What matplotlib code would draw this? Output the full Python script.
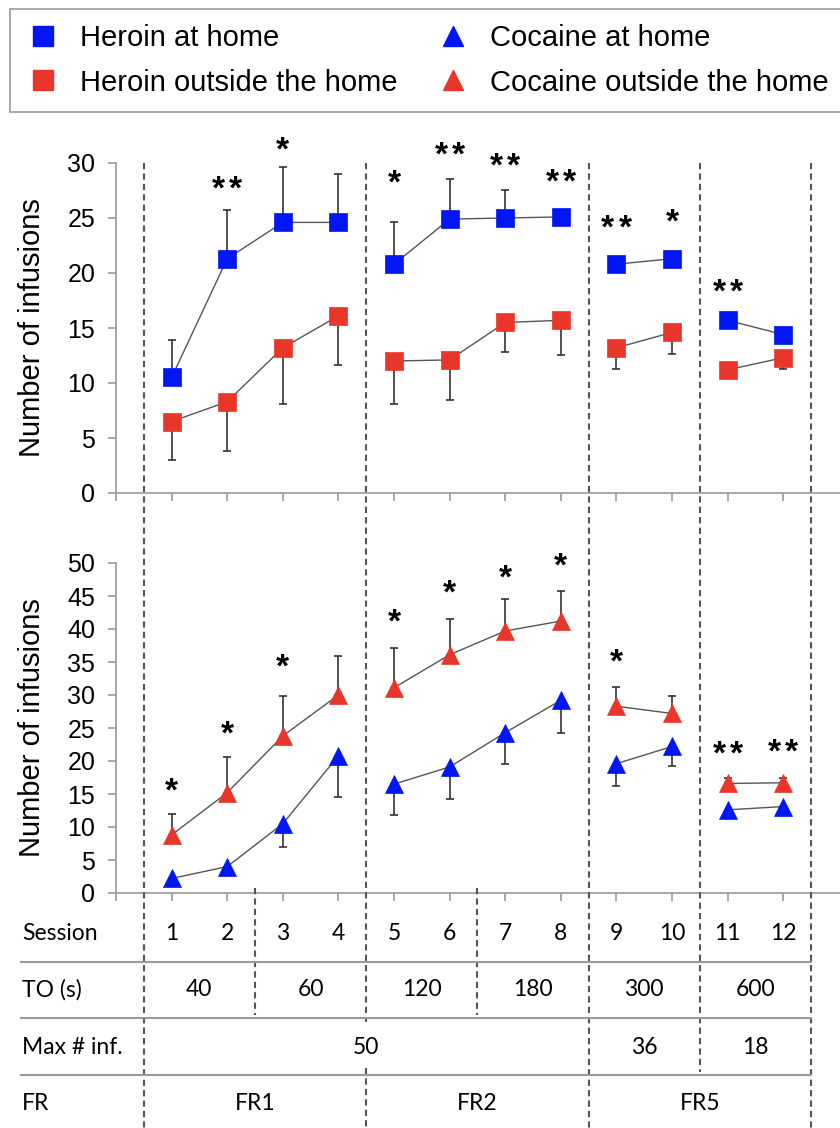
import numpy as np
import matplotlib.pyplot as plt
from matplotlib.lines import Line2D
from matplotlib.transforms import blended_transform_factory, ScaledTranslation

plt.rcParams.update({
    "font.family": ["Liberation Sans", "DejaVu Sans"],
    "axes.edgecolor": "#9a9a9a",
    "xtick.color": "#9a9a9a",
    "ytick.color": "#9a9a9a",
    "xtick.labelcolor": "black",
    "ytick.labelcolor": "black",
})

# ---- data ----
sessions = np.arange(1, 13)
phases = [(1, 4), (5, 8), (9, 10), (11, 12)]

heroin_home = [10.5, 21.3, 24.6, 24.6, 20.8, 24.9, 25.0, 25.1, 20.8, 21.3, 15.7, 14.4]
heroin_home_sem = [3.4, 4.4, 5.0, 4.4, 3.8, 3.6, 2.5, 0.6, 0.5, 0.6, 0.5, 0.5]
heroin_out = [6.5, 8.3, 13.2, 16.1, 12.0, 12.1, 15.5, 15.7, 13.2, 14.6, 11.2, 12.3]
heroin_out_sem = [3.5, 4.5, 5.1, 4.5, 3.9, 3.6, 2.7, 3.2, 1.9, 2.0, 0.5, 1.0]

cocaine_home = [2.2, 4.0, 10.5, 20.8, 16.5, 19.1, 24.3, 29.2, 19.6, 22.2, 12.6, 13.1]
cocaine_home_sem = [0.8, 0.8, 3.6, 6.3, 4.7, 4.8, 4.8, 4.9, 3.4, 3.0, 0.8, 0.8]
cocaine_out = [8.8, 15.2, 23.8, 30.0, 31.1, 36.1, 39.7, 41.2, 28.3, 27.2, 16.6, 16.7]
cocaine_out_sem = [3.2, 5.4, 6.0, 5.9, 6.0, 5.4, 4.8, 4.6, 2.9, 2.6, 0.8, 0.8]

heroin_stars_x = [2, 3, 5, 6, 7, 8, 9, 10, 11]
heroin_stars = [2, 1, 1, 2, 2, 2, 2, 1, 2]
heroin_stars_y = [28.5, 32.1, 29.1, 31.6, 30.6, 29.2, 25.0, 25.5, 19.2]
cocaine_stars_x = [1, 2, 3, 5, 6, 7, 8, 9, 11, 12]
cocaine_stars = [1, 1, 1, 1, 1, 1, 1, 1, 2, 2]
cocaine_stars_y = [16.9, 25.5, 35.7, 42.6, 46.9, 49.2, 51.0, 36.5, 22.5, 22.8]

to_values = ['40', '60', '120', '180', '300', '600']
to_centers = [1.5, 3.5, 5.5, 7.5, 9.5, 11.5]
max_inf = ['50', '36', '18']
max_centers = [4.5, 9.5, 11.5]
fr_values = ['FR1', 'FR2', 'FR5']
fr_centers = [2.5, 6.5, 10.5]
phase_bounds = [0.5, 4.5, 8.5, 10.5, 12.5]
to_bounds = [2.5, 6.5]

BLUE = '#0016F2'
RED = '#E8372A'
W, H = 840, 1128
STAR_FS = 24


def fy(px):
    return 1 - px / H


def draw_series(ax, mean, sem, color, marker, up):
    mean = np.asarray(mean)
    sem = np.asarray(sem)
    zeros = np.zeros_like(sem)
    yerr = [zeros, sem] if up else [sem, zeros]
    ax.errorbar(sessions, mean, yerr=yerr, fmt='none', ecolor='#333333',
                elinewidth=1.2, capsize=3, capthick=1.2, zorder=2)
    for a, b in phases:
        m = (sessions >= a) & (sessions <= b)
        ax.plot(sessions[m], mean[m], '-', color='#555555', lw=1.0, zorder=3)
    ax.plot(sessions, mean, linestyle='none', marker=marker, ms=13,
            color=color, mec=color, mew=0.5, zorder=4)


def style_axis(ax, ymax, step):
    ax.set_xlim(0, 13.02)
    ax.set_ylim(0, ymax)
    ax.set_yticks(np.arange(0, ymax + 1, step))
    ax.set_xticks(np.arange(0, 13))
    ax.set_xticklabels([])
    ax.spines['top'].set_visible(False)
    ax.spines['right'].set_visible(False)
    ax.spines['left'].set_linewidth(1.2)
    ax.spines['bottom'].set_linewidth(1.2)
    ax.tick_params(axis='y', length=6, width=1.2, pad=9, labelsize=18)
    ax.tick_params(axis='x', length=6, width=1.2)
    ax.set_ylabel('Number of infusions', fontsize=21)
    ax.yaxis.set_label_coords(-0.097, 0.5)


def add_stars(ax, xs, counts, ys):
    # asterisk glyph sits high in the line box, so anchor on the baseline
    # and shift down so the glyph centre lands on y
    for x, n, y in zip(xs, counts, ys):
        offsets = [0] if n == 1 else [-6.2, 6.2]
        for dx in offsets:
            tr = ax.transData + ScaledTranslation(
                dx / 72, -0.58 * STAR_FS / 72, ax.figure.dpi_scale_trans)
            ax.text(x, y, '*', ha='center', va='baseline', fontsize=STAR_FS,
                    fontweight='bold', clip_on=False, transform=tr)


fig = plt.figure(figsize=(W / 100, H / 100), dpi=100)
ax1 = fig.add_axes([116 / W, fy(493), (W - 116) / W, 330 / H])
ax2 = fig.add_axes([116 / W, fy(893), (W - 116) / W, 330 / H])

draw_series(ax1, heroin_home, heroin_home_sem, BLUE, 's', True)
draw_series(ax1, heroin_out, heroin_out_sem, RED, 's', False)
draw_series(ax2, cocaine_out, cocaine_out_sem, RED, '^', True)
draw_series(ax2, cocaine_home, cocaine_home_sem, BLUE, '^', False)
style_axis(ax1, 30, 5)
style_axis(ax2, 50, 5)
add_stars(ax1, heroin_stars_x, heroin_stars, heroin_stars_y)
add_stars(ax2, cocaine_stars_x, cocaine_stars, cocaine_stars_y)

# dashed dividers running through panels and table
tr = blended_transform_factory(ax2.transData, fig.transFigure)
dash_kw = dict(color='#555555', lw=1.5, linestyle=(0, (3, 2)), transform=tr)
for x in phase_bounds:
    if x == 4.5:
        spans = [(163, 1022), (1068, H)]
    elif x == 10.5:
        spans = [(163, 1072)]
    else:
        spans = [(163, H)]
    for y0, y1 in spans:
        fig.add_artist(Line2D([x, x], [fy(y0), fy(y1)], **dash_kw))
for x in to_bounds:
    fig.add_artist(Line2D([x, x], [fy(888), fy(1015)], **dash_kw))

# table below the bottom panel
for ypx in [962, 1018, 1075]:
    fig.add_artist(Line2D([21 / W, 811 / W], [fy(ypx), fy(ypx)],
                          color='#9a9a9a', lw=1.5))
tkw = dict(fontsize=16.5, family=['Lato', 'DejaVu Sans'], va='center')
row_y = [933, 990, 1047, 1104]
for label, ypx in zip(['Session', 'TO (s)', 'Max # inf.', 'FR'], row_y):
    fig.text(22 / W, fy(ypx), label, ha='left', **tkw)
for s in sessions:
    fig.text(s, fy(row_y[0]), str(s), ha='center', transform=tr, **tkw)
for v, c in zip(to_values, to_centers):
    fig.text(c, fy(row_y[1]), v, ha='center', transform=tr, **tkw)
for v, c in zip(max_inf, max_centers):
    fig.text(c, fy(row_y[2]), v, ha='center', transform=tr, **tkw)
for v, c in zip(fr_values, fr_centers):
    fig.text(c, fy(row_y[3]), v, ha='center', transform=tr, **tkw)

# legend
handles = [
    Line2D([], [], ls='none', marker='s', ms=14, color=BLUE),
    Line2D([], [], ls='none', marker='s', ms=14, color=RED),
    Line2D([], [], ls='none', marker='^', ms=15, color=BLUE),
    Line2D([], [], ls='none', marker='^', ms=15, color=RED),
]
labels = ['Heroin at home', 'Heroin outside the home',
          'Cocaine at home', 'Cocaine outside the home']
leg = fig.legend(handles, labels, ncol=2, loc='upper left',
                 bbox_to_anchor=(10 / W, fy(9)), borderaxespad=0,
                 fontsize=21, frameon=True, fancybox=False,
                 edgecolor='#9a9a9a', framealpha=1, borderpad=0.53,
                 handlelength=1.2, handletextpad=0.66, columnspacing=1.32,
                 labelspacing=0.55)
leg.get_frame().set_linewidth(1.2)

fig.savefig('out.png', dpi=100)
